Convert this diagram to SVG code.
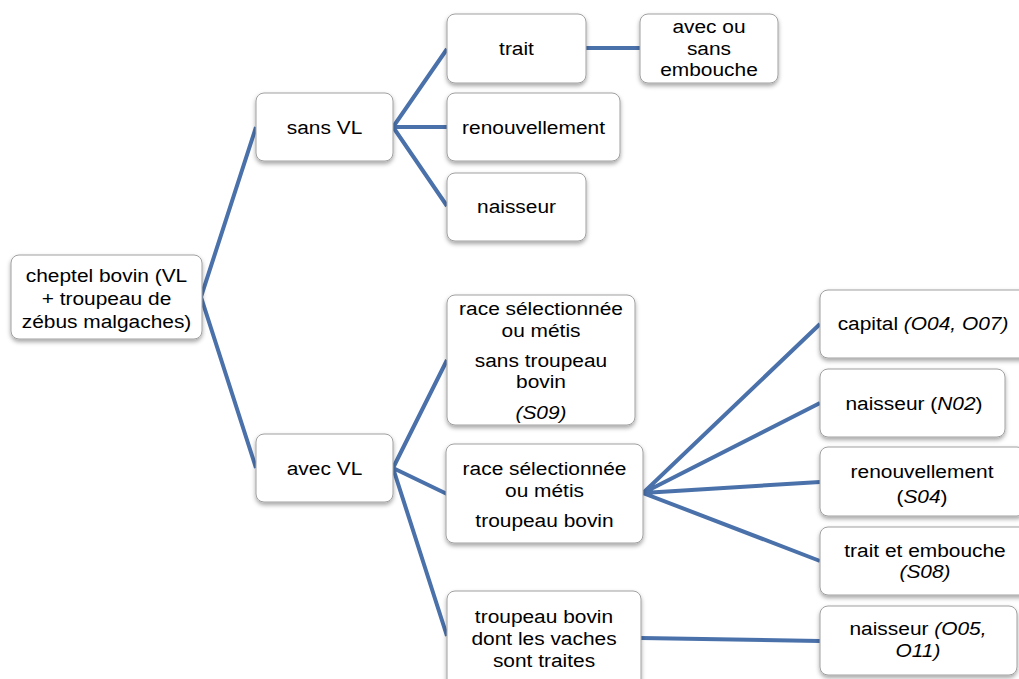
<svg xmlns="http://www.w3.org/2000/svg" width="1019" height="679" viewBox="0 0 1019 679">
<defs>
<filter id="sh" x="-10%" y="-10%" width="120%" height="130%">
<feDropShadow dx="0" dy="2.5" stdDeviation="2" flood-color="#000" flood-opacity="0.35"/>
</filter>
<style>
.box{fill:#fff;stroke:#a0a0a0;stroke-width:1;filter:url(#sh)}
.ln{stroke:#4a71aa;stroke-width:4;fill:none;stroke-linecap:butt}
text{font-family:"Liberation Sans",Arial,sans-serif;font-size:19px;fill:#000;text-anchor:middle}
.i{font-style:italic}
</style>
</defs>
<rect width="1019" height="679" fill="#fff"/>
<g id="connectors">
<path class="ln" d="M256,127 L201,297 L256,468"/>
<path class="ln" d="M447,49 L393,127 L447,206 M393,127 L447,127"/>
<path class="ln" d="M586,48 L640,48"/>
<path class="ln" d="M447,360 L393,468 L447,636 M393,468 L447,494"/>
<path class="ln" d="M820,324 L643,493 L820,561 M643,493 L820,403 M643,493 L820,482"/>
<path class="ln" d="M641,638 L820,641"/>
</g>
<g id="n-root"><rect class="box" x="11" y="255" width="191" height="84" rx="8"/>
<g transform="matrix(1.1 0 0 1 106.5 0)"><text x="0" y="282">cheptel bovin (VL</text><text x="0" y="305">+ troupeau de</text><text x="0" y="328">zébus malgaches)</text></g></g>
<g id="n-sansVL"><rect class="box" x="256" y="93" width="137" height="68" rx="8"/>
<g transform="matrix(1.1 0 0 1 324.5 0)"><text x="0" y="134">sans VL</text></g></g>
<g id="n-avecVL"><rect class="box" x="256" y="434" width="137" height="68" rx="8"/>
<g transform="matrix(1.1 0 0 1 324.5 0)"><text x="0" y="475">avec VL</text></g></g>
<g id="n-trait"><rect class="box" x="447" y="14" width="139" height="69" rx="8"/>
<g transform="matrix(1.1 0 0 1 516.5 0)"><text x="0" y="55">trait</text></g></g>
<g id="n-embouche"><rect class="box" x="640" y="14" width="138" height="69" rx="8"/>
<g transform="matrix(1.1 0 0 1 709 0)"><text x="0" y="33">avec ou</text><text x="0" y="55">sans</text><text x="0" y="76">embouche</text></g></g>
<g id="n-renouv"><rect class="box" x="447" y="93" width="173" height="68" rx="8"/>
<g transform="matrix(1.1 0 0 1 533.5 0)"><text x="0" y="134">renouvellement</text></g></g>
<g id="n-naisseur1"><rect class="box" x="447" y="173" width="139" height="68" rx="8"/>
<g transform="matrix(1.1 0 0 1 516.5 0)"><text x="0" y="213">naisseur</text></g></g>
<g id="n-raceSans"><rect class="box" x="447" y="295" width="188" height="130" rx="8"/>
<g transform="matrix(1.1 0 0 1 541 0)"><text x="0" y="315">race sélectionnée</text><text x="0" y="337">ou métis</text><text x="0" y="367">sans troupeau</text><text x="0" y="388">bovin</text><text class="i" x="0" y="419">(S09)</text></g></g>
<g id="n-raceTroupeau"><rect class="box" x="446" y="444" width="197" height="99" rx="8"/>
<g transform="matrix(1.1 0 0 1 544.5 0)"><text x="0" y="475">race sélectionnée</text><text x="0" y="497">ou métis</text><text x="0" y="527">troupeau bovin</text></g></g>
<g id="n-troupeauDont"><rect class="box" x="447" y="591" width="194" height="100" rx="8"/>
<g transform="matrix(1.1 0 0 1 544 0)"><text x="0" y="623">troupeau bovin</text><text x="0" y="645">dont les vaches</text><text x="0" y="667">sont traites</text></g></g>
<g id="n-capital"><rect class="box" x="820" y="290" width="215" height="68" rx="8"/>
<g transform="matrix(1.1 0 0 1 923 0)"><text x="0" y="330">capital  <tspan class="i">(O04,  O07)</tspan></text></g></g>
<g id="n-N02"><rect class="box" x="820" y="369" width="185" height="68" rx="8"/>
<g transform="matrix(1.1 0 0 1 914 0)"><text x="0" y="410">naisseur (<tspan class="i">N02</tspan>)</text></g></g>
<g id="n-S04"><rect class="box" x="820" y="447" width="205" height="69" rx="8"/>
<g transform="matrix(1.1 0 0 1 922 0)"><text x="0" y="478">renouvellement</text><text x="0" y="503">(<tspan class="i">S04</tspan>)</text></g></g>
<g id="n-S08"><rect class="box" x="820" y="527" width="210" height="68" rx="8"/>
<g transform="matrix(1.1 0 0 1 925 0)"><text x="0" y="557">trait et embouche</text><text class="i" x="0" y="578">(S08)</text></g></g>
<g id="n-O05"><rect class="box" x="820" y="606" width="197" height="69" rx="8"/>
<g transform="matrix(1.1 0 0 1 918 0)"><text x="0" y="635">naisseur <tspan class="i">(O05,</tspan></text><text class="i" x="0" y="657">O11)</text></g></g>
</svg>
